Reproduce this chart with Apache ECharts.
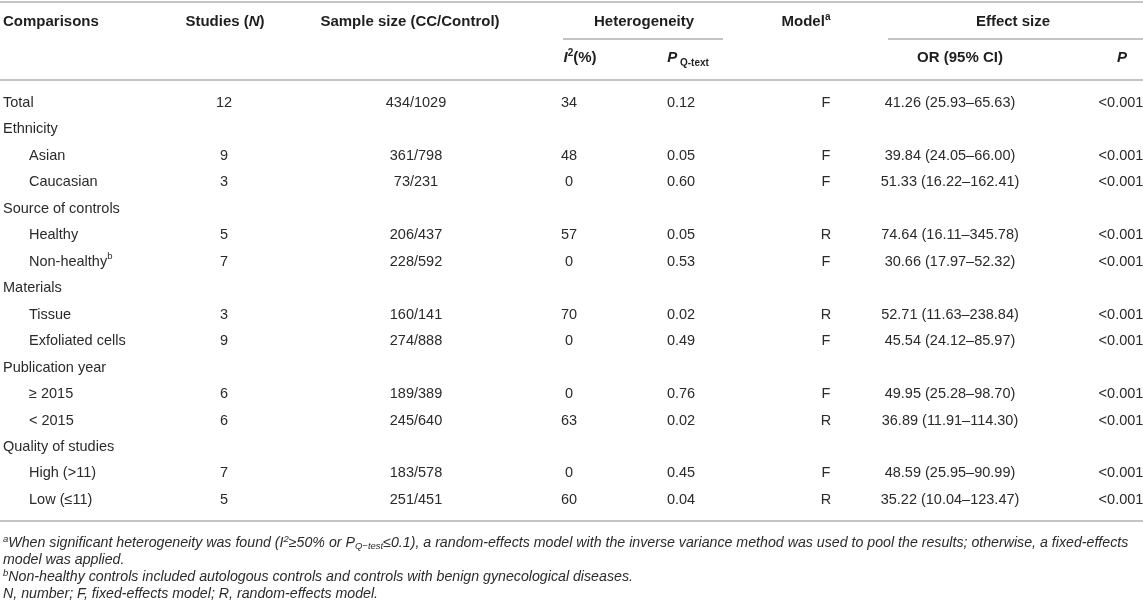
<!DOCTYPE html>
<html>
<head>
<meta charset="utf-8">
<script src="https://cdn.jsdelivr.net/npm/echarts@6/dist/echarts.min.js"></script>
<style>
  html, body { margin: 0; padding: 0; background: #fff; }
  #chart { width: 1143px; height: 610px; }
</style>
</head>
<body>
<div id="chart"></div>
<script>
// ---------------- data ----------------
const comparisons = ['Total', 'Ethnicity', 'Asian', 'Caucasian', 'Source of controls', 'Healthy', 'Non-healthy',
  'Materials', 'Tissue', 'Exfoliated cells', 'Publication year', '≥ 2015', '< 2015', 'Quality of studies',
  'High (>11)', 'Low (≤11)'];
const rowKind = ['top', 'group', 'sub', 'sub', 'group', 'sub', 'sub', 'group', 'sub', 'sub', 'group', 'sub', 'sub',
  'group', 'sub', 'sub'];
const rowNote = ['', '', '', '', '', '', 'b', '', '', '', '', '', '', '', '', ''];
const studies = ['12', '', '9', '3', '', '5', '7', '', '3', '9', '', '6', '6', '', '7', '5'];
const sampleSize = ['434/1029', '', '361/798', '73/231', '', '206/437', '228/592', '', '160/141', '274/888', '',
  '189/389', '245/640', '', '183/578', '251/451'];
const i2 = ['34', '', '48', '0', '', '57', '0', '', '70', '0', '', '0', '63', '', '0', '60'];
const pQ = ['0.12', '', '0.05', '0.60', '', '0.05', '0.53', '', '0.02', '0.49', '', '0.76', '0.02', '', '0.45', '0.04'];
const model = ['F', '', 'F', 'F', '', 'R', 'F', '', 'R', 'F', '', 'F', 'R', '', 'F', 'R'];
const orValue = ['41.26', '', '39.84', '51.33', '', '74.64', '30.66', '', '52.71', '45.54', '', '49.95', '36.89', '',
  '48.59', '35.22'];
const ciLower = ['25.93', '', '24.05', '16.22', '', '16.11', '17.97', '', '11.63', '24.12', '', '25.28', '11.91', '',
  '25.95', '10.04'];
const ciUpper = ['65.63', '', '66.00', '162.41', '', '345.78', '52.32', '', '238.84', '85.97', '', '98.70', '114.30', '',
  '90.99', '123.47'];
const pValue = ['<0.001', '', '<0.001', '<0.001', '', '<0.001', '<0.001', '', '<0.001', '<0.001', '', '<0.001',
  '<0.001', '', '<0.001', '<0.001'];

const headerRow1 = ['Comparisons', 'Studies (N)', 'Sample size (CC/Control)', 'Heterogeneity', 'Model', 'Effect size'];
const headerRow2 = ['I2(%)', 'P Q-text', 'OR (95% CI)', 'P'];
const footnotes = [
  'When significant heterogeneity was found (I2≥50% or PQ−test≤0.1), a random-effects model with the inverse variance method was used to pool the results; otherwise, a fixed-effects',
  'model was applied.',
  'Non-healthy controls included autologous controls and controls with benign gynecological diseases.',
  'N, number; F, fixed-effects model; R, random-effects model.'
];

// ---------------- layout ----------------
const W = 1143;
const col = { cmpLeft: 3, cmpIndent: 29, studies: 224, sample: 416, i2: 569, pq: 681, model: 826, or: 950, p: 1121 };
const hdr = { studies: 225, sample: 410, het: 644, i2: 580, pq: 688, model: 806, eff: 1013, or: 960, p: 1122 };
const rowTop = 89.8, rowBand = 26.46;
const TXT = '#2a2a2a', HDR = '#1e1e1e', RULE = '#c4c4c4';
const FONT = 'Liberation Sans, Arial, Helvetica, sans-serif';
const bodySize = 14.5;

function renderRow(params, api) {
  const i = api.value(1);
  const y = api.coord([0, i])[1];
  const xOf = (v) => api.coord([v, i])[0];
  const children = [];
  const t = (text, x, align) => {
    if (!text) return;
    children.push({
      type: 'text',
      style: { text: text, x: xOf(x), y: y, textAlign: align, textVerticalAlign: 'middle',
        fill: TXT, fontSize: bodySize, fontFamily: FONT }
    });
  };
  const kind = rowKind[i];
  const lx = kind === 'sub' ? col.cmpIndent : col.cmpLeft;
  if (rowNote[i]) {
    children.push({
      type: 'text',
      style: {
        text: '{m|' + comparisons[i] + '}{s|' + rowNote[i] + '}', x: xOf(lx), y: y, textAlign: 'left',
        textVerticalAlign: 'middle', fill: TXT, fontFamily: FONT,
        rich: {
          m: { fontSize: bodySize, lineHeight: 20, fill: TXT, fontFamily: FONT },
          s: { fontSize: 9.5, lineHeight: 9, verticalAlign: 'top', fill: TXT, fontFamily: FONT }
        }
      }
    });
  } else {
    t(comparisons[i], lx, 'left');
  }
  t(studies[i], col.studies, 'center');
  t(sampleSize[i], col.sample, 'center');
  t(i2[i], col.i2, 'center');
  t(pQ[i], col.pq, 'center');
  t(model[i], col.model, 'center');
  if (orValue[i]) t(orValue[i] + ' (' + ciLower[i] + '–' + ciUpper[i] + ')', col.or, 'center');
  t(pValue[i], col.p, 'center');
  return { type: 'group', children: children };
}

// header / rules / footnotes graphics
const hb = { fontSize: 15, fontWeight: 'bold', lineHeight: 20, fill: HDR, fontFamily: FONT };
const hbi = Object.assign({}, hb, { fontStyle: 'italic' });
const hsup = { fontSize: 10, fontWeight: 'bold', lineHeight: 10, verticalAlign: 'top', fill: HDR, fontFamily: FONT };
const hsub = { fontSize: 10, fontWeight: 'bold', lineHeight: 12, verticalAlign: 'bottom', fill: HDR, fontFamily: FONT };
function htext(text, x, y, align) {
  return { type: 'text', x: x, y: y, silent: true,
    style: { text: text, textAlign: align, textVerticalAlign: 'middle', fill: HDR, fontFamily: FONT,
      rich: { b: hb, bi: hbi, sup: hsup, sub: hsub } } };
}
function rule(x1, x2, y) {
  return { type: 'line', silent: true, shape: { x1: x1, y1: y, x2: x2, y2: y }, style: { stroke: RULE, lineWidth: 2 } };
}
const splitStudies = headerRow1[1].split('N');
const fs = 14.2;
const fi = { fontSize: fs, fontStyle: 'italic', lineHeight: 17, fill: TXT, fontFamily: FONT };
const fsup = { fontSize: 9.5, fontStyle: 'italic', lineHeight: 9, verticalAlign: 'top', fill: TXT, fontFamily: FONT };
const fsub = { fontSize: 9.5, fontStyle: 'italic', lineHeight: 11, verticalAlign: 'bottom', fill: TXT, fontFamily: FONT };
function ftext(text, y) {
  return { type: 'text', x: 3, y: y, silent: true,
    style: { text: text, textAlign: 'left', textVerticalAlign: 'middle', fill: TXT, fontFamily: FONT,
      rich: { i: fi, sup: fsup, sub: fsub } } };
}
const f1 = footnotes[0];
const f1a = f1.slice(0, f1.indexOf('(I2') + 1);
const f1b = f1.slice(f1.indexOf('≥50%'), f1.indexOf('PQ') + 1);
const f1c = f1.slice(f1.indexOf('≤0.1'));

const graphics = [
  rule(0, W, 2),
  rule(563, 723, 39),
  rule(888, W, 39),
  rule(0, W, 80),
  rule(0, W, 521),
  htext('{b|' + headerRow1[0] + '}', col.cmpLeft, 22, 'left'),
  htext('{b|' + splitStudies[0] + '}{bi|N}{b|' + splitStudies[1] + '}', hdr.studies, 22, 'center'),
  htext('{b|' + headerRow1[2] + '}', hdr.sample, 22, 'center'),
  htext('{b|' + headerRow1[3] + '}', hdr.het, 22, 'center'),
  htext('{b|' + headerRow1[4] + '}{sup|a}', hdr.model, 22, 'center'),
  htext('{b|' + headerRow1[5] + '}', hdr.eff, 22, 'center'),
  htext('{bi|I}{sup|2}{b|(%)}', hdr.i2, 58, 'center'),
  htext('{bi|P}{sub| Q-text}', hdr.pq, 58, 'center'),
  htext('{b|' + headerRow2[2] + '}', hdr.or, 58, 'center'),
  htext('{bi|P}', hdr.p, 58, 'center'),
  ftext('{sup|a}{i|' + f1a + '}{i|I}{sup|2}{i|' + f1b + '}{sub|Q−test}{i|' + f1c + '}', 543),
  ftext('{i|' + footnotes[1] + '}', 560),
  ftext('{sup|b}{i|' + footnotes[2] + '}', 577),
  ftext('{i|' + footnotes[3] + '}', 594)
];

const chart = echarts.init(document.getElementById('chart'), null, { renderer: 'canvas' });
chart.setOption({
  animation: false,
  backgroundColor: '#ffffff',
  grid: { left: 0, right: 0, top: rowTop, height: rowBand * comparisons.length, containLabel: false },
  xAxis: { type: 'value', min: 0, max: W, show: false },
  yAxis: { type: 'category', data: comparisons, inverse: true, show: false },
  series: [{
    type: 'custom',
    renderItem: renderRow,
    data: comparisons.map((c, i) => [0, i]),
    encode: { x: 0, y: 1 },
    silent: true
  }],
  graphic: graphics
});
</script>
</body>
</html>
